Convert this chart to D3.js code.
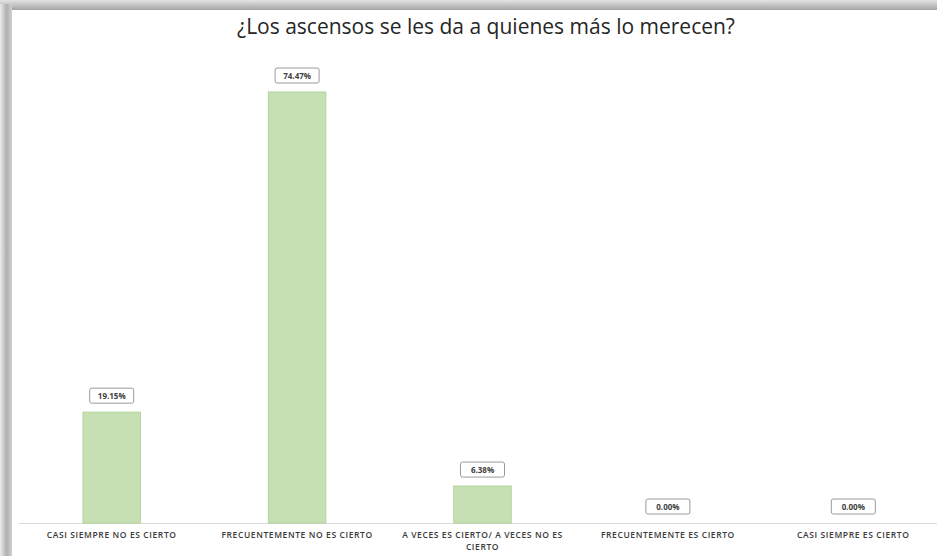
<!DOCTYPE html>
<html>
<head>
	<meta charset="utf-8">
	<title>Ascensos</title>
	<script src="https://cdn.jsdelivr.net/npm/d3@7/dist/d3.min.js"></script>
	<style>
	body{ margin:0; background:#fff; }
	svg{ display:block; }
	</style>
</head>
<body>
<script>
// data
var categories = [
	["CASI SIEMPRE NO ES CIERTO"],
	["FRECUENTEMENTE NO ES CIERTO"],
	["A VECES ES CIERTO/ A VECES NO ES", "CIERTO"],
	["FRECUENTEMENTE ES CIERTO"],
	["CASI SIEMPRE ES CIERTO"]
];
var values = [19.15, 74.47, 6.38, 0.00, 0.00];
var valueLabels = ["19.15%", "74.47%", "6.38%", "0.00%", "0.00%"];
var chartTitle = "¿Los ascensos se les da a quienes más lo merecen?";

var width = 937,
    height = 556;

var baseY = 523;

var svg = d3.select("body").append("svg")
	.attr("width", width)
	.attr("height", height);

// shadow frame top / left
var defs = svg.append("defs");
var gTop = defs.append("linearGradient").attr("id", "shTop")
	.attr("x1", 0).attr("y1", 0).attr("x2", 0).attr("y2", 1);
gTop.append("stop").attr("offset", "0%").attr("stop-color", "#e4e4e4");
gTop.append("stop").attr("offset", "100%").attr("stop-color", "#a4a4a4");
var gLeft = defs.append("linearGradient").attr("id", "shLeft")
	.attr("x1", 0).attr("y1", 0).attr("x2", 1).attr("y2", 0);
gLeft.append("stop").attr("offset", "0%").attr("stop-color", "#ececec");
gLeft.append("stop").attr("offset", "55%").attr("stop-color", "#b0b0b0");
gLeft.append("stop").attr("offset", "100%").attr("stop-color", "#d0d0d0");

svg.append("rect").attr("x", 0).attr("y", 0).attr("width", width).attr("height", 10)
	.attr("fill", "url(#shTop)");
svg.append("rect").attr("x", 0).attr("y", 4).attr("width", 12).attr("height", height)
	.attr("fill", "url(#shLeft)");

var x = d3.scaleBand()
	.domain(d3.range(values.length))
	.range([19, 946])
	.paddingInner(0.69)
	.paddingOuter(0.345);

var y = d3.scaleLinear()
	.domain([0, 74.47])
	.range([baseY, 92]);

// title
svg.append("text")
	.attr("x", 486)
	.attr("y", 34)
	.attr("text-anchor", "middle")
	.attr("font-family", "'Open Sans', sans-serif")
	.attr("font-size", "21px")
	.attr("fill", "#262626")
	.text(chartTitle);

// baseline
svg.append("line")
	.attr("x1", 19).attr("x2", 946)
	.attr("y1", baseY + 0.5).attr("y2", baseY + 0.5)
	.attr("stroke", "#d9d9d9")
	.attr("stroke-width", 1);

// bars
svg.selectAll("rect.bar")
	.data(values).enter().append("rect")
	.attr("class", "bar")
	.attr("x", function(d, i){ return x(i); })
	.attr("y", function(d){ return y(d); })
	.attr("width", x.bandwidth())
	.attr("height", function(d){ return baseY - y(d); })
	.attr("fill", "#c6e0b4")
	.attr("stroke", "#b0d49a")
	.attr("stroke-width", 1);

// value labels in boxes
var lab = svg.selectAll("g.lab")
	.data(values).enter().append("g")
	.attr("class", "lab")
	.attr("transform", function(d, i){
		return "translate(" + (x(i) + x.bandwidth() / 2) + "," + (y(d) - 9) + ")";
	});

lab.append("rect")
	.attr("x", -22).attr("y", -15)
	.attr("width", 44).attr("height", 15)
	.attr("rx", 2).attr("ry", 2)
	.attr("fill", "#fff")
	.attr("stroke", "#9a9a9a")
	.attr("stroke-width", 1);

lab.append("text")
	.attr("x", 0).attr("y", -4.5)
	.attr("text-anchor", "middle")
	.attr("font-family", "'Open Sans', sans-serif")
	.attr("font-size", "8px")
	.attr("font-weight", "bold")
	.attr("fill", "#404040")
	.text(function(d, i){ return valueLabels[i]; });

// category labels
var cat = svg.selectAll("text.cat")
	.data(categories).enter().append("text")
	.attr("class", "cat")
	.attr("x", function(d, i){ return x(i) + x.bandwidth() / 2; })
	.attr("y", 538)
	.attr("text-anchor", "middle")
	.attr("font-family", "'Open Sans', sans-serif")
	.attr("font-size", "8.5px")
	.attr("font-weight", "600")
	.attr("letter-spacing", "0.6px")
	.attr("fill", "#3a3a3a");

cat.selectAll("tspan")
	.data(function(d){ return d; }).enter().append("tspan")
	.attr("x", function(){ return d3.select(this.parentNode).attr("x"); })
	.attr("dy", function(d, i){ return i == 0 ? 0 : 11.5; })
	.text(function(d){ return d; });
</script>
</body>
</html>
